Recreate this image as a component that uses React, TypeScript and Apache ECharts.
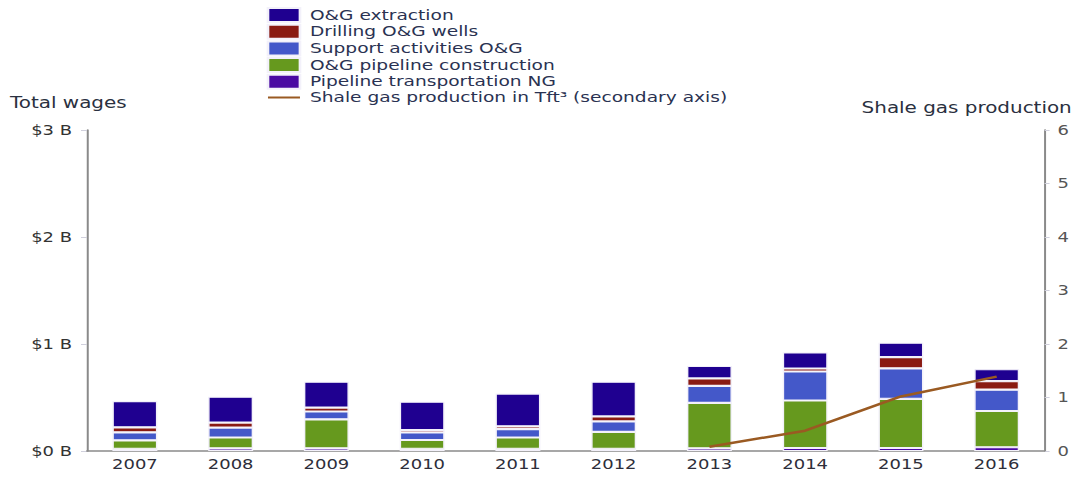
import React, { useEffect, useRef } from "react";
import * as echarts from "echarts";

const years = ["2007", "2008", "2009", "2010", "2011", "2012", "2013", "2014", "2015", "2016"];
// billions of dollars
const pipelineTransportNG = [0.02, 0.025, 0.025, 0.02, 0.02, 0.02, 0.025, 0.028, 0.028, 0.035];
const pipelineConstruction = [0.079, 0.101, 0.271, 0.083, 0.106, 0.158, 0.424, 0.444, 0.46, 0.339];
const supportActivities = [0.075, 0.093, 0.073, 0.07, 0.079, 0.098, 0.159, 0.271, 0.284, 0.2];
const drillingWells = [0.047, 0.047, 0.037, 0.023, 0.025, 0.047, 0.07, 0.028, 0.106, 0.079];
const extraction = [0.246, 0.241, 0.241, 0.265, 0.307, 0.325, 0.117, 0.151, 0.134, 0.112];
// Tft³
const shaleGas = [null, null, null, null, null, null, 0.08, 0.38, 1.02, 1.39];

const leftTicks = ["$0 B", "$1 B", "$2 B", "$3 B"];

const FONT = "DejaVu Sans";
// the reference is drawn horizontally stretched; draw narrower and stretch
const FULL_W = 1073;
const H = 477;
const S = 1.3296;
const W = Math.round(FULL_W / S);
const sx = (px: number) => px / S;

const LINE_NAME = "Shale gas production in Tft³ (secondary axis)";
const LINE_COLOR = "#9a5a22";

export default function App() {
  const ref = useRef<HTMLDivElement>(null);
  useEffect(() => {
    if (!ref.current) return;
    const chart = echarts.init(ref.current, null, { renderer: "svg" });
    const bar = (name: string, data: number[], color: string) => ({
      name,
      type: "bar",
      stack: "wages",
      barWidth: sx(45),
      data,
      itemStyle: { color, borderColor: "#f3f1fa", borderWidth: 1.1 },
      z: 3,
    });
    chart.setOption({
      animation: false,
      textStyle: { fontFamily: FONT },
      legend: {
        orient: "vertical",
        left: sx(260),
        top: 2,
        itemWidth: sx(32),
        itemHeight: 14,
        itemGap: 0.7,
        textStyle: {
          fontFamily: FONT,
          fontSize: 14,
          lineHeight: 14,
          color: "#2a3252",
          padding: [0, 0, 0, 2.5],
        },
        data: [
          { name: "O&G extraction", icon: "rect" },
          { name: "Drilling O&G wells", icon: "rect" },
          { name: "Support activities O&G", icon: "rect" },
          { name: "O&G pipeline construction", icon: "rect" },
          { name: "Pipeline transportation NG", icon: "rect" },
          {
            name: LINE_NAME,
            itemStyle: { color: "rgba(0,0,0,0)", borderColor: "rgba(0,0,0,0)", borderWidth: 0 },
            lineStyle: { color: LINE_COLOR, width: 2 },
          },
        ],
      },
      grid: { left: sx(87), right: sx(28), top: 130, bottom: 26 },
      xAxis: {
        type: "category",
        data: years,
        z: 1,
        axisLine: { lineStyle: { color: "#8a8a8a", width: 1.5 } },
        axisTick: { alignWithLabel: true, length: 4, lineStyle: { color: "#d0d0d8" } },
        axisLabel: { fontFamily: FONT, fontSize: 13.5, color: "#2e2e3a", margin: 6 },
      },
      yAxis: [
        {
          type: "value",
          min: 0,
          max: 3,
          interval: 1,
          position: "left",
          splitLine: { show: false },
          axisLine: { show: true, lineStyle: { color: "#8a8a8a", width: 1.5 } },
          axisTick: { show: true, length: sx(6), lineStyle: { color: "#d0d0dc" } },
          axisLabel: {
            fontFamily: FONT,
            fontSize: 13.5,
            color: "#333",
            margin: sx(15),
            formatter: (v: number) => leftTicks[Math.round(v)] ?? "",
          },
        },
        {
          type: "value",
          min: 0,
          max: 6,
          interval: 1,
          position: "right",
          splitLine: { show: false },
          axisLine: { show: true, lineStyle: { color: "#8a8a8a", width: 1.5 } },
          axisTick: { show: true, length: sx(5), lineStyle: { color: "#d0d0dc" } },
          axisLabel: { fontFamily: FONT, fontSize: 13.5, color: "#555", margin: sx(13) },
        },
      ],
      graphic: [
        {
          type: "text",
          left: sx(10),
          top: 95,
          style: { text: "Total wages", fontFamily: FONT, fontSize: 15, fill: "#2a3040" },
        },
        {
          type: "text",
          right: sx(1),
          top: 100,
          style: { text: "Shale gas production", fontFamily: FONT, fontSize: 15, fill: "#2a3040" },
        },
      ],
      series: [
        bar("Pipeline transportation NG", pipelineTransportNG, "#4a0aa2"),
        bar("O&G pipeline construction", pipelineConstruction, "#66991e"),
        bar("Support activities O&G", supportActivities, "#4458c9"),
        bar("Drilling O&G wells", drillingWells, "#8a1a12"),
        bar("O&G extraction", extraction, "#1f0090"),
        {
          name: LINE_NAME,
          type: "line",
          yAxisIndex: 1,
          data: shaleGas,
          symbol: "circle",
          showSymbol: false,
          symbolSize: 0,
          lineStyle: { color: LINE_COLOR, width: 2.5 },
          itemStyle: { color: LINE_COLOR },
          z: 5,
        },
      ],
    });
    return () => chart.dispose();
  }, []);
  return (
    <div
      style={{
        position: "absolute",
        left: 0,
        top: 0,
        width: FULL_W,
        height: H,
        overflow: "hidden",
        background: "#fff",
      }}
    >
      <div
        ref={ref}
        style={{ width: W, height: H, transform: `scaleX(${S})`, transformOrigin: "0 0" }}
      />
    </div>
  );
}
